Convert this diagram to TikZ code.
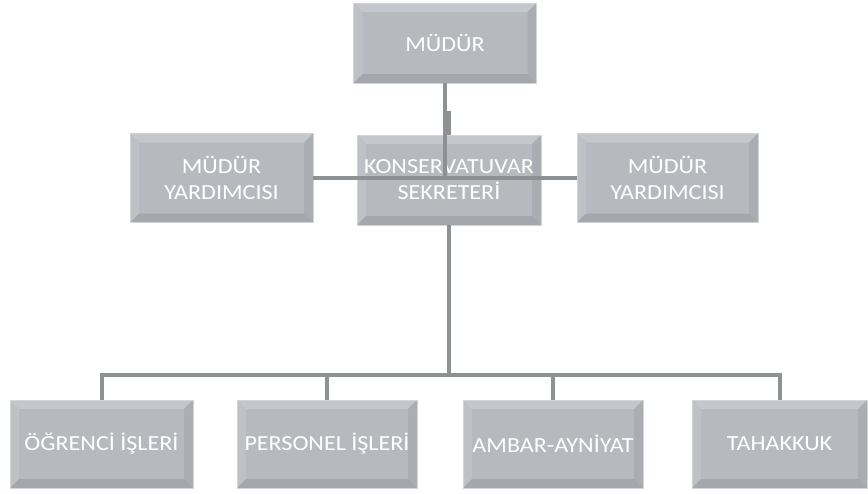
\documentclass[tikz,border=0pt]{standalone}
\usepackage{fontspec}
\setmainfont{Carlito}[FakeStretch=1.12]
\definecolor{boxfill}{HTML}{B6BABE}
\definecolor{bevtop}{HTML}{C4C7CB}
\definecolor{bevleft}{HTML}{BEC1C5}
\definecolor{bevright}{HTML}{AAAEB2}
\definecolor{bevbot}{HTML}{A4A8AD}
\definecolor{boxline}{HTML}{D2D5D8}
\definecolor{conn}{HTML}{8D9194}
\begin{document}
\begin{tikzpicture}[x=1pt,y=-1pt,
  orgbox/.style={rectangle, fill=boxfill, draw=boxline, line width=0.6pt, inner sep=0pt,
    align=center, text=white, font=\fontsize{21.5}{26}\selectfont,
    path picture={
      \coordinate (pnw) at (path picture bounding box.north west);
      \coordinate (pne) at (path picture bounding box.north east);
      \coordinate (psw) at (path picture bounding box.south west);
      \coordinate (pse) at (path picture bounding box.south east);
      \fill[bevtop] (pnw) -- (pne) -- ([shift={(-9pt,-9pt)}]pne) -- ([shift={(9pt,-9pt)}]pnw) -- cycle;
      \fill[bevleft] (pnw) -- (psw) -- ([shift={(9pt,9pt)}]psw) -- ([shift={(9pt,-9pt)}]pnw) -- cycle;
      \fill[bevright] (pne) -- (pse) -- ([shift={(-9pt,9pt)}]pse) -- ([shift={(-9pt,-9pt)}]pne) -- cycle;
      \fill[bevbot] (psw) -- (pse) -- ([shift={(-9pt,9pt)}]pse) -- ([shift={(9pt,9pt)}]psw) -- cycle;
    }},
  connector/.style={draw=conn, line width=4pt}]
\useasboundingbox (0,0) rectangle (868,493);

\node[orgbox, minimum width=183pt, minimum height=80pt] (mudur) at (445,43) {MÜDÜR};
\node[orgbox, minimum width=183pt, minimum height=89pt] (myl) at (221.5,178) {MÜDÜR\\YARDIMCISI};
\node[orgbox, minimum width=184pt, minimum height=90pt] (ks) at (449,180) {KONSERVATUVAR\\SEKRETERİ};
\node[orgbox, minimum width=181pt, minimum height=89pt] (myr) at (667.5,178) {MÜDÜR\\YARDIMCISI};

\node[orgbox, minimum width=183pt, minimum height=88pt] (b1) at (101.5,444) {ÖĞRENCİ İŞLERİ};
\node[orgbox, minimum width=180pt, minimum height=88pt] (b2) at (327,444) {PERSONEL İŞLERİ};
\node[orgbox, minimum width=180pt, minimum height=88pt] (b3) at (553,444) {AMBAR-AYNİYAT};
\node[orgbox, minimum width=175pt, minimum height=88pt] (b4) at (779.5,444) {TAHAKKUK};

\coordinate (j1) at (445,178);
\coordinate (bus) at (449,375);

\draw[connector] (mudur.south) -- (j1);
\draw[connector] (mudur.south -| ks.north) ++(0,28) -- (ks.north);
\draw[connector] (myl.east) -- (myr.west);
\draw[connector] (ks.south) -- (bus);
\draw[connector] (b1.north) |- (bus);
\draw[connector] (b2.north) |- (bus);
\draw[connector] (b3.north) |- (bus);
\draw[connector] (b4.north) |- (bus);
\end{tikzpicture}
\end{document}
